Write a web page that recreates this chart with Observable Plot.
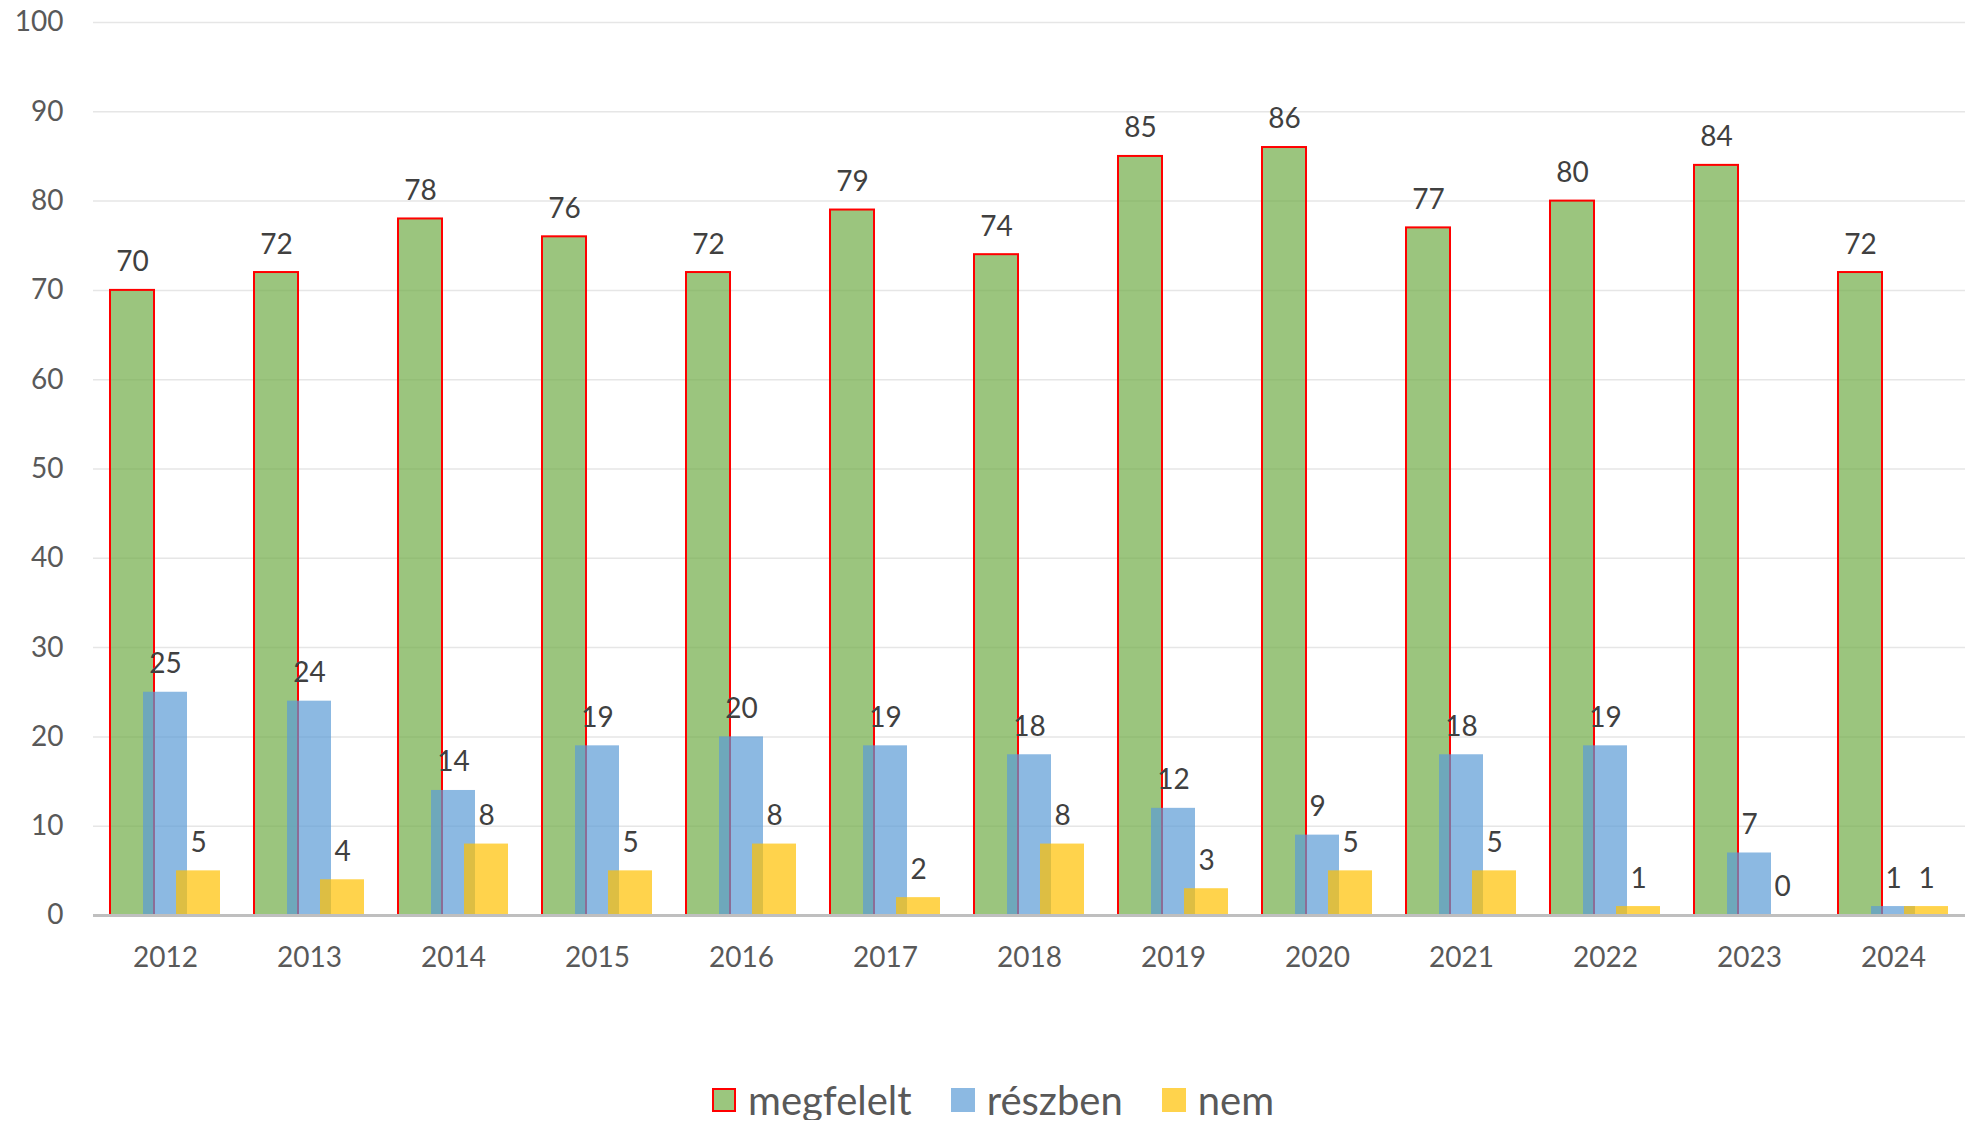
<!DOCTYPE html>
<html><head><meta charset="utf-8">
<script src="https://cdn.jsdelivr.net/npm/d3@7"></script>
<script src="https://cdn.jsdelivr.net/npm/@observablehq/plot@0.6"></script>
<style>
body{margin:0;background:#fff;font-family:Lato,sans-serif;}
#legend{display:flex;align-items:center;height:40px;line-height:40px;margin-top:40px;padding-left:712px;font-size:40px;color:#595959;}
.item{display:flex;align-items:center;margin-right:39px;}
.sw{width:24px;height:24px;margin-right:12px;box-sizing:border-box;}
</style></head><body>
<div id="chart"></div>
<div id="legend"></div>
<script>
const years = ["2012","2013","2014","2015","2016","2017","2018","2019","2020","2021","2022","2023","2024"];
const megfelelt = [70,72,78,76,72,79,74,85,86,77,80,84,72];
const reszben = [25,24,14,19,20,19,18,12,9,18,19,7,1];
const nem = [5,4,8,5,8,2,8,3,5,5,1,0,1];
const seriesNames = ["megfelelt","részben","nem"];
const seriesColors = ["#70AD47","#5B9BD5","#FFC000"];
const yTicks = [0,10,20,30,40,50,60,70,80,90,100];

const seriesValues = [megfelelt, reszben, nem];
const rows = seriesNames.map((s,k)=> years.map((y,i)=>({year:y, series:s, value:seriesValues[k][i]})));
const offsets = [-33, 0, 33];

const marks = [
  Plot.gridY(yTicks, {stroke:"#E6E6E6", strokeOpacity:1, strokeWidth:1.5}),
  Plot.axisY(yTicks, {tickSize:0, tickPadding:30, fontSize:28, fill:"#595959"}),
  Plot.axisX({tickSize:0, tickPadding:32, fontSize:28, fill:"#595959"})
];
rows.forEach((data,k)=>{
  marks.push(Plot.barY(data, {x:"year", y:"value", fill:seriesColors[k], fillOpacity:0.7, dx:offsets[k],
    stroke: k===0 ? "#FF0000" : "none", strokeWidth: 2}));
});
rows.forEach((data,k)=>{
  marks.push(Plot.text(data, {x:"year", y:"value", text:d=>String(d.value), dx:offsets[k], dy:-28, fontSize:28, fill:"#404040"}));
});
marks.push(Plot.ruleY([0], {stroke:"#BFBFBF", strokeWidth:3}));

const chart = Plot.plot({
  width:1972, height:1040,
  marginLeft:93, marginRight:7, marginTop:22, marginBottom:125,
  style:{fontFamily:"Lato, sans-serif", fontSize:"28px", background:"#fff"},
  x:{domain:years, paddingInner:0.6944, paddingOuter:0.3472, label:null},
  y:{domain:[0,100], label:null},
  marks
});
document.getElementById("chart").appendChild(chart);

const legend = document.getElementById("legend");
seriesNames.forEach((s,k)=>{
  const it = document.createElement("div"); it.className="item";
  const sw = document.createElement("div"); sw.className="sw";
  sw.style.background = seriesColors[k]; sw.style.opacity = 0.7;
  if(k===0){ sw.style.border="2px solid #FF0000"; sw.style.opacity=1; sw.style.background="#9BC67E"; }
  const t = document.createElement("span"); t.textContent = s;
  it.appendChild(sw); it.appendChild(t); legend.appendChild(it);
});
</script>
</body></html>
